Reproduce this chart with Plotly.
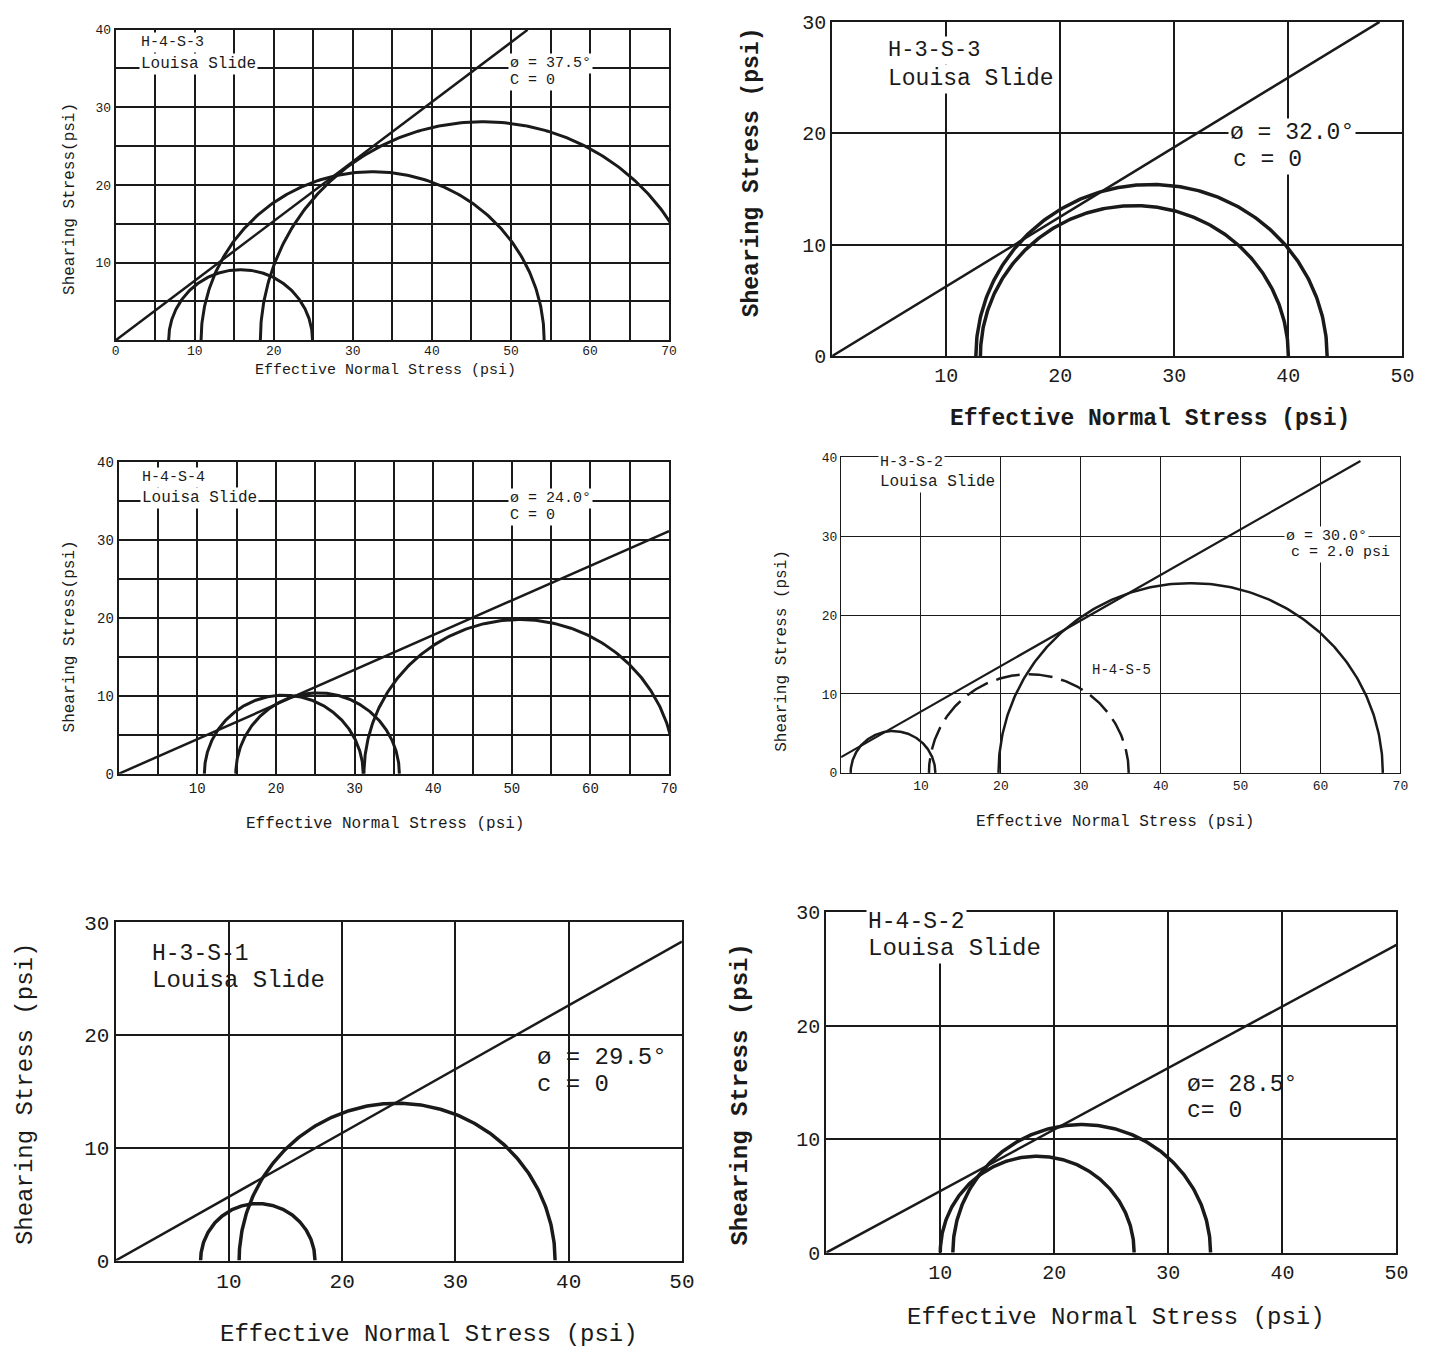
import numpy as np
import plotly.graph_objects as go

W, H = 1448, 1361

# ---------------- data ----------------
# Panel A : H-4-S-3
a_sig3 = [6.7, 10.8, 18.3]
a_sig1 = [24.9, 54.2, 74.6]
a_phi, a_c, a_env_end = 37.5, 0.0, 52.1
# Panel B : H-3-S-3
b_sig3 = [13.0, 12.6]
b_sig1 = [40.0, 43.4]
b_phi, b_c, b_env_end = 32.0, 0.0, 48.0
# Panel C : H-4-S-4
c_sig3 = [10.9, 14.9, 31.2]
c_sig1 = [31.1, 35.7, 70.8]
c_phi, c_c, c_env_end = 24.0, 0.0, 70.0
# Panel D : H-3-S-2 (solid) and H-4-S-5 (dashed)
d_sig3 = [1.2, 19.7]
d_sig1 = [11.8, 67.8]
d_dash_sig3 = [11.0]
d_dash_sig1 = [36.0]
d_phi, d_c, d_env_end = 30.0, 2.0, 65.0
# Panel E : H-3-S-1
e_sig3 = [7.5, 10.9]
e_sig1 = [17.6, 38.8]
e_phi, e_c, e_env_end = 29.5, 0.0, 50.0
# Panel F : H-4-S-2
f_sig3 = [10.0, 11.1]
f_sig1 = [27.0, 33.7]
f_phi, f_c, f_env_end = 28.5, 0.0, 50.0

FONT = "Liberation Mono, Courier New, monospace"
INK = "#1a1a1a"

fig = go.Figure()


def circle(s3, s1, n=240):
    cen = (s1 + s3) / 2.0
    r = (s1 - s3) / 2.0
    t = np.linspace(0, np.pi, n)
    return cen + r * np.cos(t), r * np.sin(t)


def add_panel(k, sig3, sig1, phi, coh, env_end, cw, ew, dash3=None, dash1=None):
    xa = "x" if k == 1 else f"x{k}"
    ya = "y" if k == 1 else f"y{k}"
    for s3, s1 in zip(sig3, sig1):
        cx, cy = circle(s3, s1)
        fig.add_trace(go.Scatter(x=cx, y=cy, mode="lines", xaxis=xa, yaxis=ya,
                                 line=dict(color=INK, width=cw), showlegend=False,
                                 hoverinfo="skip"))
    if dash3:
        for s3, s1 in zip(dash3, dash1):
            cx, cy = circle(s3, s1)
            fig.add_trace(go.Scatter(x=cx, y=cy, mode="lines", xaxis=xa, yaxis=ya,
                                     line=dict(color=INK, width=cw, dash="24px,9px"),
                                     showlegend=False, hoverinfo="skip"))
    ex = np.array([0.0, env_end])
    ey = coh + np.tan(np.radians(phi)) * ex
    fig.add_trace(go.Scatter(x=ex, y=ey, mode="lines", xaxis=xa, yaxis=ya,
                             line=dict(color=INK, width=ew), showlegend=False,
                             hoverinfo="skip"))


add_panel(1, a_sig3, a_sig1, a_phi, a_c, a_env_end, 3, 2.5)
add_panel(2, b_sig3, b_sig1, b_phi, b_c, b_env_end, 3.5, 2.5)
add_panel(3, c_sig3, c_sig1, c_phi, c_c, c_env_end, 3, 2.5)
add_panel(4, d_sig3, d_sig1, d_phi, d_c, d_env_end, 2.5, 2.2, d_dash_sig3, d_dash_sig1)
add_panel(5, e_sig3, e_sig1, e_phi, e_c, e_env_end, 3.5, 2.5)
add_panel(6, f_sig3, f_sig1, f_phi, f_c, f_env_end, 3.5, 2.5)


def px_dom(p0, p1, total, flip=False):
    if flip:
        return [1 - p1 / total, 1 - p0 / total]
    return [p0 / total, p1 / total]


# pixel boxes: (x_left, x_right, y_top, y_bottom)
boxes = {
    1: (113, 673, 20, 336),
    2: (838, 1415, 12, 352),
    3: (116, 673, 460, 777),
    4: (847, 1413, 455, 776),
    5: (113, 686, 928, 1272),
    6: (832, 1409, 918, 1264),
}
ranges = {1: ([0, 70], [0, 40]), 2: ([0, 50], [0, 30]), 3: ([0, 70], [0, 40]),
          4: ([0, 70], [0, 40]), 5: ([0, 50], [0, 30]), 6: ([0, 50], [0, 30])}
xticks = {1: [0, 10, 20, 30, 40, 50, 60, 70], 2: [10, 20, 30, 40, 50],
          3: [10, 20, 30, 40, 50, 60, 70], 4: [10, 20, 30, 40, 50, 60, 70],
          5: [10, 20, 30, 40, 50], 6: [10, 20, 30, 40, 50]}
yticks = {1: [10, 20, 30, 40], 2: [0, 10, 20, 30], 3: [0, 10, 20, 30, 40],
          4: [0, 10, 20, 30, 40], 5: [0, 10, 20, 30], 6: [0, 10, 20, 30]}
tsize = {1: 13, 2: 20, 3: 14, 4: 13, 5: 21, 6: 20}
minor5 = {1: True, 3: True}

layout = {}
for k in range(1, 7):
    xl, xr, yt, yb = boxes[k]
    xn = "xaxis" if k == 1 else f"xaxis{k}"
    yn = "yaxis" if k == 1 else f"yaxis{k}"
    xa = "x" if k == 1 else f"x{k}"
    ya = "y" if k == 1 else f"y{k}"
    lw = 1.2 if k == 4 else 2
    gw = 1.1 if k == 4 else 1.5
    common = dict(showgrid=True, gridcolor=INK, gridwidth=gw, zeroline=False,
                  showline=True, mirror=True, linecolor=INK, linewidth=lw,
                  ticks="", tickmode="array",
                  tickfont=dict(family=FONT, size=tsize[k], color=INK))
    xdict = dict(common, domain=px_dom(xl, xr, W), range=ranges[k][0],
                 anchor=ya, tickvals=xticks[k])
    ydict = dict(common, domain=px_dom(yt, yb, H, flip=True), range=ranges[k][1],
                 anchor=xa, tickvals=yticks[k])
    if k in minor5:
        xdict["minor"] = dict(tickvals=list(range(5, 70, 10)), showgrid=True,
                              gridcolor=INK, gridwidth=gw)
        ydict["minor"] = dict(tickvals=list(range(5, 40, 10)), showgrid=True,
                              gridcolor=INK, gridwidth=gw)
    if k == 1:
        xdict["ticklabelstandoff"] = -3
    layout[xn] = xdict
    layout[yn] = ydict

fig.update_layout(**layout)


def ann_data(k, x, y, text, size, bold=False, bg=True):
    xa = "x" if k == 1 else f"x{k}"
    ya = "y" if k == 1 else f"y{k}"
    t = f"<b>{text}</b>" if bold else text
    fig.add_annotation(x=x, y=y, xref=xa, yref=ya, text=t, showarrow=False,
                       xanchor="left", yanchor="middle",
                       font=dict(family=FONT, size=size, color=INK),
                       bgcolor="white" if bg else "rgba(0,0,0,0)", borderpad=1)


def ann_px(px, py, text, size, angle=0, bold=False):
    t = f"<b>{text}</b>" if bold else text
    fig.add_annotation(x=px / W, y=1 - py / H, xref="paper", yref="paper",
                       text=t, showarrow=False, textangle=angle,
                       xanchor="center", yanchor="middle",
                       font=dict(family=FONT, size=size, color=INK))


# Panel A
ann_data(1, 2.9, 38.4, "H-4-S-3", 15)
ann_data(1, 2.9, 35.6, "Louisa Slide", 16)
ann_data(1, 49.6, 35.6, "ø = 37.5°", 15)
ann_data(1, 49.6, 33.5, "C = 0", 15)
ann_px(386, 367, "Effective Normal Stress (psi)", 15)
ann_px(67, 192, "Shearing Stress(psi)", 16, angle=-90)

# Panel B
ann_data(2, 4.7, 27.4, "H-3-S-3", 22)
ann_data(2, 4.7, 24.9, "Louisa Slide", 23)
ann_data(2, 34.7, 20.0, "ø = 32.0°", 23)
ann_data(2, 35.0, 17.6, "c = 0", 23)
ann_px(1160, 416, "Effective Normal Stress (psi)", 23, bold=True)
ann_px(757, 165, "Shearing Stress (psi)", 23, angle=-90, bold=True)

# Panel C
ann_data(3, 2.7, 38.1, "H-4-S-4", 15)
ann_data(3, 2.7, 35.4, "Louisa Slide", 16)
ann_data(3, 49.5, 35.4, "ø = 24.0°", 15)
ann_data(3, 49.5, 33.2, "C = 0", 15)
ann_px(386, 828, "Effective Normal Stress (psi)", 16)
ann_px(67, 637, "Shearing Stress(psi)", 16, angle=-90)

# Panel D
ann_data(4, 4.6, 39.3, "H-3-S-2", 15)
ann_data(4, 4.6, 36.9, "Louisa Slide", 16)
ann_data(4, 55.4, 29.9, "ø = 30.0°", 15)
ann_data(4, 56.0, 27.9, "c = 2.0 psi", 15)
ann_data(4, 31.2, 13.0, "H-4-S-5", 14, bg=False)
ann_px(1124, 826, "Effective Normal Stress (psi)", 16)
ann_px(787, 652, "Shearing Stress (psi)", 16, angle=-90)

# Panel E
ann_data(5, 3.0, 27.2, "H-3-S-1", 23, bg=False)
ann_data(5, 3.0, 24.8, "Louisa Slide", 24, bg=False)
ann_data(5, 37.0, 18.0, "ø = 29.5°", 24, bg=False)
ann_data(5, 37.0, 15.6, "c = 0", 24, bg=False)
ann_px(430, 1347, "Effective Normal Stress (psi)", 24)
ann_px(22, 1103, "Shearing Stress (psi)", 24, angle=-90)

# Panel F
ann_data(6, 3.5, 29.2, "H-4-S-2", 23)
ann_data(6, 3.5, 26.8, "Louisa Slide", 24)
ann_data(6, 31.5, 14.8, "ø= 28.5°", 23, bg=False)
ann_data(6, 31.5, 12.5, "c= 0", 23, bg=False)
ann_px(1125, 1330, "Effective Normal Stress (psi)", 24)
ann_px(745, 1103, "Shearing Stress (psi)", 24, angle=-90, bold=True)

fig.update_layout(width=W, height=H, margin=dict(l=0, r=0, t=0, b=0),
                  paper_bgcolor="white", plot_bgcolor="white",
                  font=dict(family=FONT, color=INK))

fig.write_html("out.html")
